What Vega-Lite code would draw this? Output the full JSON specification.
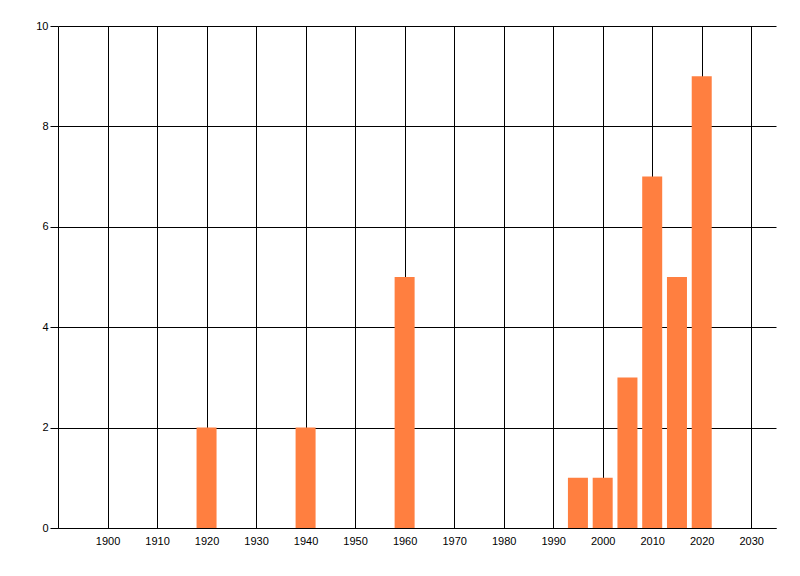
{
  "$schema": "https://vega.github.io/schema/vega-lite/v6.json",
  "description": "Bar chart of counts by year",
  "autosize": "none",
  "padding": {"left": 58, "top": 26, "right": 24, "bottom": 48},
  "width": 718,
  "height": 502,
  "background": "white",
  "data": {
    "values": [
      {"year": 1920, "count": 2},
      {"year": 1940, "count": 2},
      {"year": 1960, "count": 5},
      {"year": 1995, "count": 1},
      {"year": 2000, "count": 1},
      {"year": 2005, "count": 3},
      {"year": 2010, "count": 7},
      {"year": 2015, "count": 5},
      {"year": 2020, "count": 9}
    ]
  },
  "config": {
    "view": {"stroke": null},
    "axis": {
      "labelFont": "Liberation Sans",
      "labelFontSize": 11,
      "labelColor": "black",
      "domainColor": "black",
      "gridColor": "black",
      "gridOpacity": 1,
      "tickColor": "black",
      "title": null
    }
  },
  "mark": {"type": "bar", "size": 20, "color": "#FF7F40"},
  "encoding": {
    "x": {
      "field": "year",
      "type": "quantitative",
      "scale": {"domain": [1890, 2035], "nice": false, "zero": false, "padding": 0},
      "axis": {
        "values": [1900, 1910, 1920, 1930, 1940, 1950, 1960, 1970, 1980, 1990, 2000, 2010, 2020, 2030],
        "format": "d",
        "ticks": false,
        "labelPadding": 7,
        "labelFlush": false
      }
    },
    "y": {
      "field": "count",
      "type": "quantitative",
      "scale": {"domain": [0, 10], "nice": false},
      "axis": {
        "values": [0, 2, 4, 6, 8, 10],
        "tickSize": 8,
        "labelPadding": 2,
        "labelFlush": false
      }
    }
  }
}
